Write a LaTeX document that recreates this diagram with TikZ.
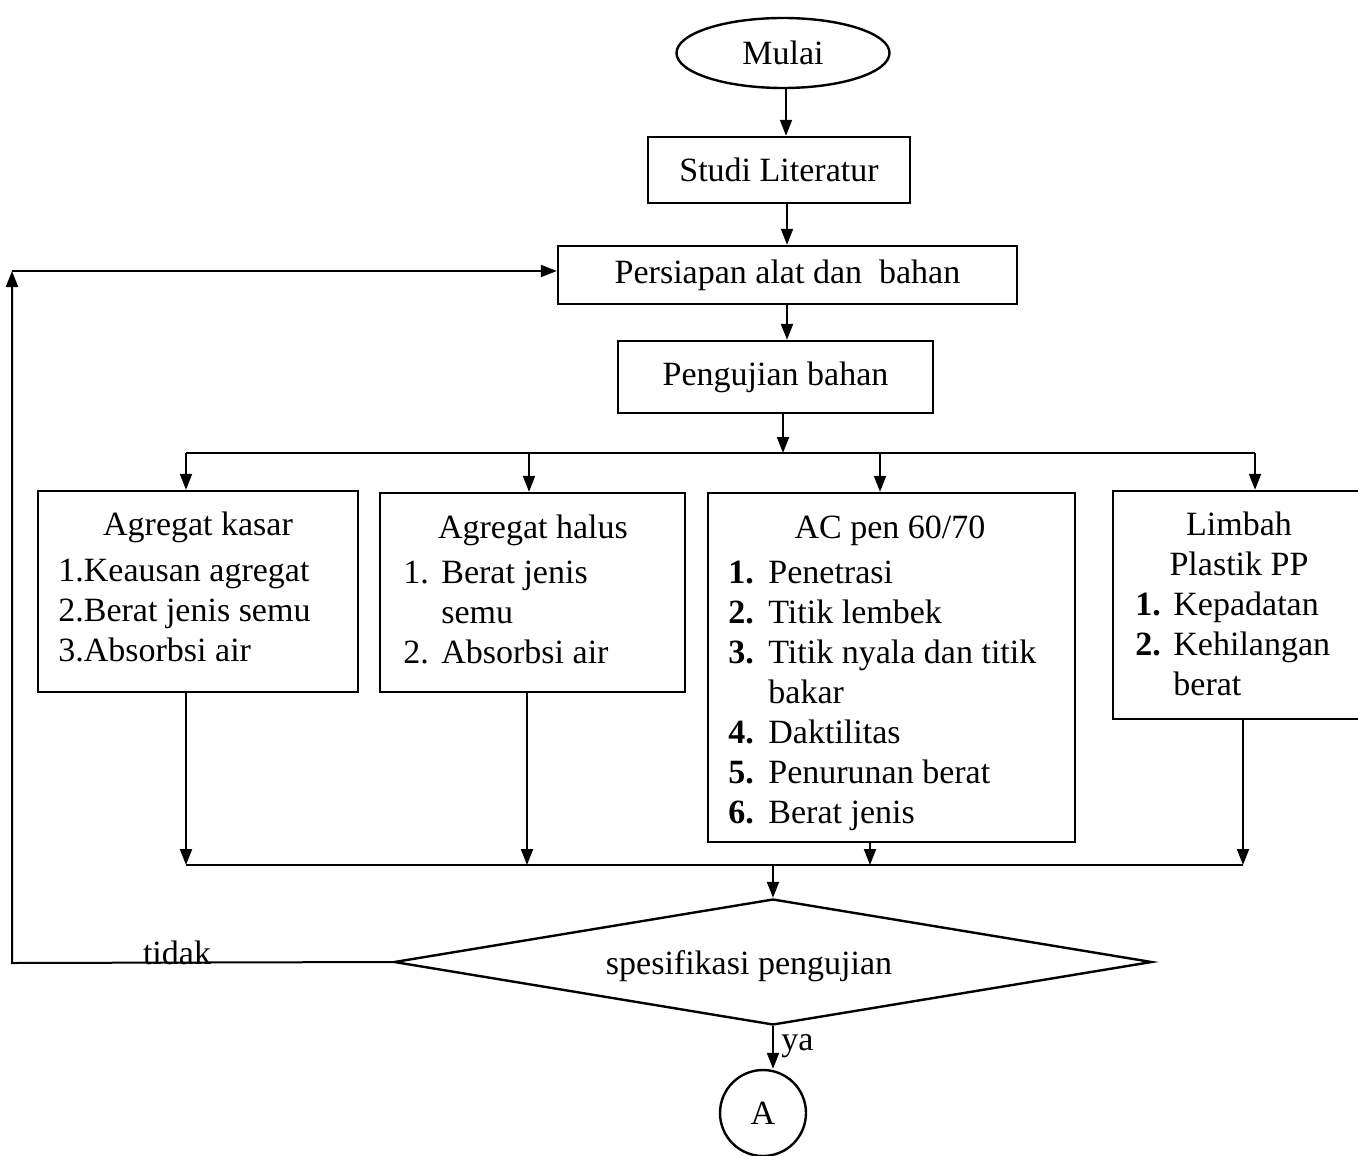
\documentclass[tikz,border=0pt]{standalone}
\usepackage{fontspec}
\setmainfont{Liberation Serif}
\usetikzlibrary{arrows.meta,shapes.geometric}

\begin{document}
\begin{tikzpicture}[x=0.5pt,y=-0.5pt,>={Triangle[length=8pt,width=6pt]},
  font=\fontsize{17}{20}\selectfont,
  box/.style={draw,line width=1.2pt,inner sep=0pt},
  txt/.style={inner sep=0pt},
  link/.style={line width=1pt}]
  \useasboundingbox (0,0) rectangle (1358,1155);

  % alur atas
  \node[box,ellipse,minimum width=106.5pt,minimum height=35pt] (mulai) at (783,53) {Mulai};
  \node[box,minimum width=131pt,minimum height=33pt] (studi) at (779,170) {Studi Literatur};
  \node[box,minimum width=229.5pt,minimum height=29pt] (persiapan) at (787.5,275) {Persiapan alat dan\ \ bahan};
  \node[box,minimum width=157.5pt,minimum height=36pt] (uji) at (775.5,377) {Pengujian bahan};

  \draw[link,->] (786,0 |- mulai.south) -- (786,0 |- studi.north);
  \draw[link,->] (787,0 |- studi.south) -- (787,0 |- persiapan.north);
  \draw[link,->] (787,0 |- persiapan.south) -- (787,0 |- uji.north);

  % kotak bahan
  \node[box,minimum width=160pt,minimum height=100.5pt] (kasar) at (198,591.5) {};
  \node[box,minimum width=152.5pt,minimum height=99.5pt] (halus) at (532.5,592.5) {};
  \node[box,minimum width=183.5pt,minimum height=174.5pt] (aspal) at (891.5,667.5) {};
  \node[box,minimum width=124.5pt,minimum height=114pt] (plastik) at (1237.5,605) {};

  \node[txt,anchor=base] (kasarjudul) at (198,535) {Agregat kasar};
  \node[txt,anchor=base west] (kasarisi) at (58,581)
    {\begin{tabular}[t]{@{}l@{}}1.Keausan agregat\\2.Berat jenis semu\\3.Absorbsi air\end{tabular}};

  \node[txt,anchor=base] (halusjudul) at (533,538) {Agregat halus};
  \node[txt,anchor=base west] (halusisi) at (403,583)
    {\begin{tabular}[t]{@{}p{19pt}@{}l@{}}1. & Berat jenis\\ & semu\\2. & Absorbsi air\end{tabular}};

  \node[txt,anchor=base] (aspaljudul) at (890,538) {AC pen 60/70};
  \node[txt,anchor=base west] (aspalisi) at (728,583)
    {\begin{tabular}[t]{@{}p{20pt}@{}l@{}}\textbf{1.} & Penetrasi\\\textbf{2.} & Titik lembek\\
     \textbf{3.} & Titik nyala dan titik\\ & bakar\\\textbf{4.} & Daktilitas\\
     \textbf{5.} & Penurunan berat\\\textbf{6.} & Berat jenis\end{tabular}};

  \node[txt,anchor=base] (plastikjudul) at (1239,535)
    {\begin{tabular}[t]{@{}c@{}}Limbah\\Plastik PP\end{tabular}};
  \node[txt,anchor=base west] (plastikisi) at (1135,615)
    {\begin{tabular}[t]{@{}p{19pt}@{}l@{}}\textbf{1.} & Kepadatan\\\textbf{2.} & Kehilangan\\ & berat\end{tabular}};

  % percabangan
  \coordinate (busatas) at (783,453);
  \coordinate (t1) at (186,453);
  \coordinate (t2) at (529,453);
  \coordinate (t3) at (880,453);
  \coordinate (t4) at (1255,453);
  \draw[link,->] (uji.south -| busatas) -- (busatas);
  \draw[link] (t1) -- (t4);
  \draw[link,->] (t1) -- (t1 |- kasar.north);
  \draw[link,->] (t2) -- (t2 |- halus.north);
  \draw[link,->] (t3) -- (t3 |- aspal.north);
  \draw[link,->] (t4) -- (t4 |- plastik.north);

  \coordinate (b1) at (186,865);
  \coordinate (b2) at (527,865);
  \coordinate (b3) at (870,865);
  \coordinate (b4) at (1243,865);
  \draw[link,->] (b1 |- kasar.south) -- (b1);
  \draw[link,->] (b2 |- halus.south) -- (b2);
  \draw[link,->] (b3 |- aspal.south) -- (b3);
  \draw[link,->] (b4 |- plastik.south) -- (b4);
  \draw[link] (b1) -- (b4);

  % keputusan
  \node[box,diamond,aspect=6,minimum width=379pt,minimum height=63pt,
    label={[xshift=-12pt,yshift=-2pt]center:spesifikasi pengujian}] (spek) at (773,962) {};
  \node[box,circle,minimum size=43pt] (akhir) at (763,1113) {A};
  \draw[link,->] (spek.north |- b1) -- (spek.north);
  \draw[link,->] (spek.south) -- (spek.south |- akhir.north);
  \node[txt,anchor=west] (ya) at (781,1046) {ya};

  \coordinate (kiribawah) at (12,963);
  \coordinate (kiriatas) at (12,271);
  \draw[link,->] (spek.west) -- (kiribawah) -- (kiriatas);
  \draw[link,->] (kiriatas) -- (persiapan.west |- kiriatas);
  \node[txt,anchor=base] (tidak) at (177,964) {tidak};
\end{tikzpicture}
\end{document}
